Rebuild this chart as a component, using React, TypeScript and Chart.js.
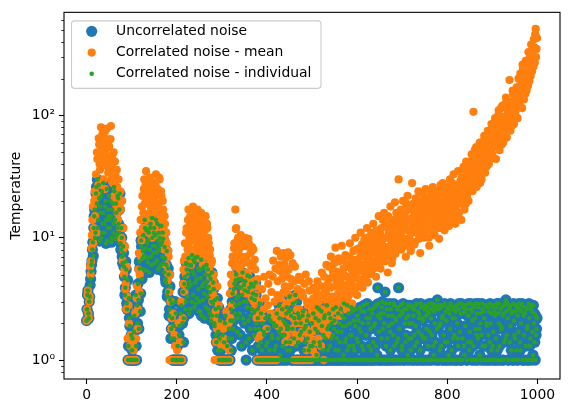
import { useEffect, useRef } from "react";
import Chart from "chart.js/auto";

const FONT_FAMILY = "'DejaVu Sans', 'Liberation Sans', sans-serif";
const FONT_SIZE = 13.9;

// One sample per time unit, starting at t = 0.
const TIME_STEP = 1;

const X_TICKS = [0, 200, 400, 600, 800, 1000];
const Y_MAJOR_TICKS = [1, 10, 100];
const Y_TICK_LABELS = ["10⁰", "10¹", "10²"];
const Y_MINOR_TICKS = [0.8, 0.9, 2, 3, 4, 5, 6, 7, 8, 9, 20, 30, 40, 50, 60, 70, 80, 90, 200, 300, 400, 500, 600];

const SERIES_LABELS = ["Uncorrelated noise", "Correlated noise - mean", "Correlated noise - individual"];
const SERIES_COLORS = ["#1f77b4", "#ff7f0e", "#2ca02c"];

// Temperature of the uncorrelated-noise run (50 samples per row).
const UNCORRELATED = [
  2.1,2.6, 3.4,3.7, 2.4,2.2, 3.0,3.3, 4.1,4.6, 5.3,6.0, 6.5,8.0, 9.2,7.1, 12,15, 17,10, 11,23, 26,19, 30,12, 14,27, 21,9.4, 18,16, 10,22, 24,11, 13,28, 16,13, 11,18, 20,9.0, 14,25, 9.5,12, 17,15,
  22,14, 12,20, 15,9.2, 10,17, 19,11, 13,26, 24,14, 9.8,19, 16,10.5, 12,22, 21,13, 11,17, 23,9.0, 8.0,12, 10,7.0, 6.2,8.5, 7.5,5.8, 4.8,3.4, 3.9,6.4, 5.5,2.9, 2.6,4.5, 1.0,1.3, 3.2,2.2, 1.9,1.0, 1.0,1.6,
  1.0,1.2, 1.5,1.0, 1.0,1.7, 2.3,1.0, 1.0,3.4, 1.3,1.0, 2.8,2.0, 4.2,3.1, 1.8,6.4, 5.6,2.5, 3.5,9.5, 8.5,4.6, 6.8,7.8, 10.5,5.5, 7.2,14, 12,8.2, 5.4,11.5, 9.0,6.9, 6.3,9.6, 11,5.2, 8.0,12, 13,7.0, 6.0,14.5, 10,8.6, 7.5,11,
  12,6.2, 8.5,10.5, 14,7.6, 6.5,13, 9.5,5.5, 11,8.0, 5.8,10, 8.8,6.0, 12.5,9.2, 7.0,11, 9.8,6.2, 5.2,8.4, 6.8,4.6, 4.3,6.0, 7.8,3.3, 3.6,5.6, 5.0,2.3, 2.6,4.0, 3.1,1.5, 1.8,2.9, 2.2,1.0, 1.0,1.9, 1.5,1.0, 1.0,3.0, 2.4,1.0,
  1.0,1.0, 1.3,1.0, 1.0,1.6, 1.9,1.0, 1.0,2.4, 2.8,1.0, 1.0,2.0, 3.6,1.4, 2.2,4.2, 4.8,2.6, 3.0,6.2, 5.5,3.3, 3.9,5.0, 6.8,2.4, 4.4,6.0, 2.6,4.1, 5.9,3.0, 7.2,5.3, 3.4,6.6, 5.0,2.7, 6.3,4.3, 2.9,6.9, 4.6,3.2, 7.0,5.6, 3.8,2.5,
  5.4,3.0, 2.5,4.7, 6.6,2.3, 4.0,5.6, 3.1,4.2, 5.8,3.5, 2.2,5.0, 4.4,2.7, 6.0,3.9, 3.3,5.5, 2.6,4.0, 4.9,2.4, 3.6,4.6, 2.1,3.0, 5.2,2.3, 2.9,4.3, 3.8,2.0, 1.9,3.1, 2.6,1.6, 1.4,2.3, 3.2,1.2, 1.7,2.7, 1.0,1.5, 2.1,1.0, 1.2,1.0,
  1.0,1.0, 1.6,1.0, 1.0,1.4, 1.0,2.0, 2.3,1.0, 1.0,1.0, 1.3,1.0, 1.0,1.5, 1.8,1.0, 1.0,2.1, 2.6,1.2, 1.5,3.0, 3.5,1.8, 2.1,3.8, 4.2,2.4, 2.8,4.5, 5.0,3.2, 1.7,2.2, 3.3,4.0, 4.6,2.9, 2.4,1.6, 3.9,4.6, 1.3,3.4, 5.2,2.2, 3.0,4.1,
  2.0,3.7, 4.4,1.4, 1.0,3.0, 2.7,4.9, 3.6,2.1, 1.5,3.9, 4.8,1.8, 2.3,4.2, 3.2,2.6, 1.2,3.5, 4.0,1.6, 2.5,3.1, 1.8,4.3, 3.4,2.0, 1.0,2.6, 2.2,1.3, 1.0,1.8, 2.9,1.0, 1.4,2.4, 1.0,1.2, 2.0,1.0, 1.0,1.7, 1.6,1.0, 1.0,2.2, 1.3,1.0,
  1.0,1.4, 1.8,1.0, 1.0,2.3, 1.2,1.0, 2.1,1.0, 1.0,1.6, 1.5,1.0, 1.0,2.0, 1.9,1.2, 1.0,1.0, 1.3,1.9, 2.4,1.0, 1.0,1.5, 1.7,2.8, 2.2,1.0, 1.1,1.8, 1.6,1.0, 2.6,1.3, 1.3,2.1, 1.0,1.6, 2.0,1.0, 1.4,2.4, 2.7,1.2, 1.0,1.9, 1.8,2.5,
  3.3,1.4, 1.2,2.6, 2.3,1.0, 1.0,1.8, 2.9,1.0, 1.5,2.2, 1.0,3.4, 2.0,1.3, 3.0,1.0, 1.0,2.4, 1.4,1.0, 2.2,1.6, 1.0,2.0, 1.7,1.0, 1.0,2.3, 2.5,1.0, 1.2,1.8, 1.0,1.4, 1.9,1.0, 1.0,2.1, 1.5,1.0, 2.3,1.2, 1.0,1.7, 1.3,1.0, 1.0,2.0,
  2.0,1.3, 1.0,2.4, 1.4,1.0, 1.0,1.8, 2.2,1.0, 1.1,2.7, 1.7,1.0, 1.0,2.1, 2.6,1.4, 1.3,1.0, 1.0,2.5, 1.9,1.0, 1.2,1.6, 1.0,2.2, 2.3,1.0, 1.5,1.0, 1.0,2.8, 1.8,1.2, 1.0,1.9, 2.4,1.0, 1.3,2.2, 1.0,1.5, 2.0,1.0, 1.6,2.6, 1.0,1.8,
  2.1,1.0, 1.2,2.7, 1.0,1.5, 1.7,1.0, 2.4,1.2, 1.0,2.0, 1.4,1.0, 2.6,1.7, 1.0,2.3, 1.9,1.0, 1.1,2.9, 2.2,1.4, 1.0,1.9, 1.5,1.0, 2.8,1.2, 1.0,2.4, 1.3,1.0, 2.0,1.6, 1.0,2.7, 1.6,1.0, 2.5,1.3, 1.0,2.1, 1.2,1.0, 1.9,2.6, 1.0,1.5,
  2.3,1.0, 1.4,2.1, 1.0,1.8, 2.7,1.0, 1.7,2.5, 1.0,1.3, 2.0,1.0, 1.2,2.8, 2.5,1.0, 1.0,1.6, 1.6,2.2, 2.9,1.0, 1.0,2.0, 1.3,2.6, 2.2,1.0, 1.8,1.2, 1.0,2.4, 2.6,1.0, 1.4,1.9, 1.0,2.7, 2.0,1.3, 2.8,1.0, 1.1,2.3, 3.9,2.9, 1.7,1.0,
  1.0,2.2, 2.4,1.0, 1.5,2.7, 3.0,1.8, 1.0,2.4, 2.0,1.0, 3.6,2.9, 1.3,1.0, 2.6,1.5, 1.0,2.3, 1.9,1.0, 2.9,1.7, 1.2,2.6, 1.0,2.0, 2.3,1.0, 1.6,2.9, 2.8,1.3, 1.0,2.2, 2.1,1.0, 1.4,2.6, 2.7,1.5, 3.9,1.0, 1.8,2.3, 1.0,2.8, 2.5,1.2,
  1.3,2.4, 2.9,1.0, 1.0,2.6, 2.0,1.4, 1.6,2.2, 2.6,1.0, 1.1,2.8, 2.3,1.5, 1.0,2.0, 2.8,1.2, 1.5,2.7, 2.0,1.0, 1.0,2.3, 2.6,1.6, 1.3,2.8, 1.9,1.0, 2.9,1.4, 1.0,2.5, 1.7,2.2, 2.4,1.0, 1.2,2.9, 2.7,1.6, 1.0,2.2, 2.1,1.0, 1.5,2.6,
  2.8,1.5, 1.0,2.3, 1.8,2.7, 2.5,1.0, 1.3,2.4, 2.9,1.7, 1.0,2.6, 2.2,1.0, 1.6,2.9, 2.7,1.3, 1.1,2.5, 2.0,1.0, 1.4,2.8, 2.6,1.8, 3.1,1.0, 1.0,2.6, 1.9,1.2, 2.8,2.0, 1.3,2.7, 1.0,2.2, 2.3,1.0, 1.6,2.8, 2.9,1.4, 1.0,2.5, 2.1,1.0,
  1.4,2.7, 2.6,1.1, 1.0,2.4, 1.8,2.9, 2.8,1.0, 1.2,2.6, 2.2,1.5, 1.0,2.7, 1.6,2.2, 2.5,1.0, 1.0,2.8, 2.0,1.5, 1.3,2.6, 2.9,1.0, 1.7,2.4, 1.0,2.9, 2.4,1.0, 1.5,2.7, 2.8,1.3, 1.1,2.5, 1.9,2.8, 2.6,1.0, 1.0,2.3, 1.4,2.9, 2.3,1.2,
  1.7,2.6, 2.9,1.4, 1.0,2.5, 2.1,2.8, 1.3,1.0, 2.7,2.2, 1.8,2.9, 1.0,1.6, 2.4,1.0, 1.5,2.7, 2.9,1.8, 1.1,2.4, 2.0,1.0, 1.6,2.9, 2.6,1.3, 1.0,2.5, 2.2,2.8, 1.3,1.0, 2.8,2.0, 1.9,2.7, 1.0,1.6, 2.5,1.0, 1.4,2.9, 2.0,2.4, 1.2,1.0,
  2.7,1.3, 1.7,2.8, 1.0,2.5, 2.3,1.0, 1.5,2.7, 2.9,1.2, 1.0,2.4, 2.0,2.9, 1.3,1.0, 2.6,1.9, 1.8,2.7, 1.0,2.3, 2.4,1.0, 1.4,2.8, 2.9,1.5, 3.1,2.5, 1.6,2.9, 2.2,1.0, 1.0,2.6, 2.7,1.4, 1.9,2.8, 1.2,2.4, 2.5,1.0, 1.0,2.9, 2.1,1.6,
  1.5,2.5, 2.8,1.2, 1.0,2.7, 2.3,1.0, 1.7,2.9, 2.6,1.4, 1.2,2.5, 2.0,2.8, 2.9,1.0, 1.0,2.3, 1.6,2.7, 2.4,1.0, 1.3,2.6, 2.7,1.8, 1.9,1.0, 1.0,2.9, 2.2,1.3, 1.5,2.6, 2.8,1.0, 2.5,1.7, 1.1,2.8, 2.0,2.4, 1.4,1.0, 2.3,1.6, 1.8,2.2,
];

// Mean temperature of the correlated-noise ensemble (50 samples per row).
const CORRELATED_MEAN = [
  2.1,2.6, 3.4,3.7, 2.4,2.2, 3.0,3.3, 5.8,5.0, 6.4,8.2, 10.5,14, 18,9.0, 12,20, 24,15, 21,33, 11,50, 44,22, 27,65, 58,40, 36,28, 80,56, 48,70, 66,42, 30,60, 72,25, 52,46, 40,78, 62,38, 34,55,
  56,40, 45,64, 82,30, 38,47, 28,35, 50,20, 22,42, 33,26, 18,36, 26,16, 14,30, 23,19, 12,24, 17,10, 9.5,20, 6.5,8.0, 12,5.0, 5.5,8.5, 3.8,4.2, 2.6,5.8, 3.3,1.5, 1.0,2.8, 2.0,1.0, 1.0,1.3, 1.6,1.0,
  1.0,1.0, 1.0,1.4, 1.2,1.0, 1.0,1.0, 2.4,1.0, 1.5,3.2, 4.0,1.8, 2.6,5.5, 7.5,3.6, 5.0,11, 14,7.0, 9.5,18, 22,12, 16,25, 30,19, 12,27, 35,14, 20,24, 26,11, 15,21, 31,16, 18,29, 24,10, 13,20, 28,17,
  21,12, 16,27, 33,18, 11,23, 25,14, 19,31, 30,10, 14,24, 22,16, 10,20, 17,12, 8.0,15, 13,9.5, 6.0,11, 9.0,5.2, 4.5,7.8, 7.0,3.6, 1.0,5.0, 3.0,1.0, 1.8,2.2, 1.0,1.0, 2.4,1.0, 1.0,1.6, 1.3,1.0, 1.0,1.0,
  1.0,1.2, 1.0,1.0, 2.0,1.0, 1.0,1.4, 1.0,1.0, 3.0,1.0, 1.0,2.2, 4.2,5.5, 6.5,3.6, 9.0,7.0, 5.0,11, 12,6.5, 8.0,14, 17,9.0, 10,12.5, 15,7.0, 6.0,16, 13,11, 18,8.0, 9.5,14, 16,10.5, 7.5,15, 12,8.5, 17,6.8, 10,13,
  14,9.5, 8.5,12, 16,7.5, 11,14, 6.0,10, 13,7.0, 9.0,11.5, 15,8.0, 7.0,13, 12,6.0, 10,9.0, 5.5,7.2, 8.0,4.8, 4.0,6.2, 6.5,3.0, 3.5,4.5, 5.0,2.2, 1.0,3.2, 2.5,1.4, 1.0,1.8, 4.0,1.0, 1.0,2.8, 1.0,1.0, 2.0,1.0, 1.0,1.3,
  1.0,1.0, 1.0,1.8, 1.5,1.0, 1.0,1.0, 1.0,1.3, 2.5,1.0, 1.0,1.0, 1.0,2.0, 1.2,1.0, 3.5,2.2, 5.0,4.2, 2.8,6.2, 7.0,3.6, 4.5,8.2, 9.0,5.8, 17,11.8, 12,7.5, 6.0,9.5, 10,4.8, 8.0,6.8, 5.5,9.0, 10.5,5.0, 7.0,8.5, 4.0,6.2, 9.5,3.6,
  6.5,8.8, 10,5.2, 3.5,7.0, 8.5,4.6, 5.0,9.8, 9.0,6.2, 4.2,3.8, 7.5,5.8, 3.2,8.4, 6.0,4.4, 8.0,3.0, 2.6,6.6, 5.5,3.4, 4.0,2.2, 1.0,4.6, 1.0,1.5, 3.0,1.0, 1.0,2.4, 1.6,1.0, 1.0,3.8, 2.2,1.0, 1.0,2.6, 4.8,1.0, 1.0,3.2, 1.0,1.8,
  1.0,1.0, 2.8,4.2, 1.0,1.0, 5.0,1.0, 1.0,2.4, 3.6,1.0, 1.0,4.8, 6.5,1.0, 1.0,3.0, 2.2,5.6, 1.0,1.0, 7.8,3.4, 4.4,1.9, 2.5,5.4, 6.0,2.0, 3.2,7.0, 1.8,4.6, 5.2,2.4, 7.5,3.6, 2.7,6.0, 4.0,1.4, 6.8,2.9, 1.6,4.8, 3.5,7.6, 5.5,2.4,
  2.3,4.0, 7.2,3.1, 4.6,1.8, 1.4,6.2, 3.0,2.2, 1.0,4.4, 5.8,1.6, 2.0,3.4, 1.0,2.6, 3.8,1.0, 1.0,4.8, 2.6,1.5, 4.5,2.0, 1.0,3.6, 1.7,1.0, 3.3,2.4, 1.0,4.2, 2.1,1.0, 5.0,1.8, 1.2,3.0, 2.8,1.0, 1.6,4.4, 3.7,1.5, 2.2,1.0, 1.3,3.0,
  2.5,1.7, 1.2,3.2, 3.9,2.0, 1.8,2.7, 1.1,3.6, 2.9,1.4, 4.4,2.4, 1.5,3.0, 2.2,1.9, 3.4,2.4, 1.3,4.0, 5.2,1.8, 2.6,3.2, 1.0,4.8, 3.8,1.6, 2.0,3.5, 6.0,2.6, 3.0,4.2, 1.6,5.8, 4.6,2.2, 2.4,3.9, 7.0,2.8, 3.3,4.8, 5.4,2.6, 2.1,6.2,
  4.0,3.1, 8.3,5.3, 2.8,4.4, 5.0,2.5, 3.5,6.8, 6.4,3.8, 2.3,5.2, 4.6,3.3, 8.6,4.1, 3.0,6.6, 5.6,2.9, 3.9,4.9, 7.2,3.7, 2.6,5.8, 4.8,3.2, 6.0,4.2, 3.4,7.0, 9.0,3.8, 4.3,6.2, 5.5,2.9, 3.6,5.0, 7.8,4.0, 4.7,6.6, 10,3.9, 5.2,8.0,
  3.4,5.9, 6.6,4.6, 8.2,5.4, 4.5,7.0, 11,4.2, 5.8,8.8, 3.9,6.0, 7.4,5.2, 9.6,4.6, 5.0,8.4, 6.8,10, 12,5.6, 4.3,7.2, 8.0,5.0, 6.2,9.2, 10.5,6.6, 5.4,8.6, 7.6,11, 13,5.6, 6.0,8.2, 9.0,6.4, 4.8,10, 11.5,7.8, 7.0,9.4, 15,6.2,
  8.5,11, 5.6,7.0, 12,9.0, 9.8,14, 6.6,8.0, 16,6.4, 10,12.5, 7.4,10, 13.5,8.4, 5.2,15, 11,7.2, 8.2,12, 18,10, 9.4,6.2, 6.8,11.5, 14,8.6, 10.5,13, 19.5,7.4, 7.8,16, 12.5,10, 9.0,14, 30,8.8, 15,12, 11,17, 8.0,13,
  13,10, 20,15, 9.6,12.5, 16,8.6, 7.0,19, 11.5,14, 22,9.5, 14,17, 10,12, 18,7.8, 8.4,14.5, 28,11, 12.5,19, 16.5,8.8, 9.2,15, 21,11.5, 13,17.5, 11,20, 24,9.8, 15,13, 7.5,16, 18,10.5, 12,23, 20,14, 10,17,
  16,12, 25,18, 11.5,21, 19,14, 13.5,10, 8.6,17, 22,13, 15.5,24, 12,19, 26,11, 17,15, 10.5,22, 20,13, 14,17.5, 24,12, 18,20, 9.8,15, 16,27, 23,12, 13,19, 28,15, 19,24, 11.5,17, 21,13, 15,22,
  26,19, 17.5,22, 12.5,16, 30,24, 20,14, 15,28, 24,19, 33,21, 18,26, 13,17, 27,22, 21,15, 35,25, 16,20, 25,29, 19,14, 31,24, 23,36, 38,21, 17,26, 28,19, 42,30, 22,25, 33,20, 26,39,
  36,27, 29,42, 48,33, 24,38, 107,30, 40,52, 31,36, 55,26, 27,40, 44,33, 35,48, 60,28, 38,45, 30,55, 50,35, 42,62, 68,45, 34,52, 56,38, 46,70, 75,49, 40,58, 62,44, 52,72, 85,55,
  48,62, 70,55, 58,82, 95,66, 44,90, 78,56, 64,100, 110,72, 52,68, 88,115, 72,58, 120,84, 60,92, 98,70, 80,125, 140,86, 66,112, 105,76, 90,130, 195,95, 75,108, 125,82, 100,160, 150,115, 85,130,
  145,100, 110,130, 170,120, 95,155, 200,140, 125,175, 220,135, 150,190, 115,260, 240,170, 135,215, 180,150, 280,200, 160,245, 210,175, 330,260, 190,300, 250,210, 380,280, 230,340, 300,250, 420,360, 270,460, 510,300, 350,430,
];

// Individual members of the correlated-noise ensemble follow the uncorrelated run sample for sample.
const CORRELATED_INDIVIDUAL = UNCORRELATED;

const SERIES_VALUES = [UNCORRELATED, CORRELATED_MEAN, CORRELATED_INDIVIDUAL];
const MARKER_RADII = [5.6, 4.1, 2.3];
const DRAW_ORDER = [3, 2, 1];

const font = { family: FONT_FAMILY, size: FONT_SIZE };

// Spines, minor log ticks and the legend box, drawn on top of the chart.
const decorPlugin = {
  id: "decor",
  afterDatasetsDraw(chart: any) {
    const { ctx, chartArea: a, scales } = chart;
    const y = scales.y;
    ctx.save();
    ctx.strokeStyle = "#000";
    ctx.lineWidth = 0.8;
    ctx.beginPath();
    for (const v of Y_MINOR_TICKS) {
      const py = Math.round(y.getPixelForValue(v)) + 0.5;
      ctx.moveTo(a.left, py);
      ctx.lineTo(a.left - 2.8, py);
    }
    ctx.stroke();
    ctx.lineWidth = 1.1;
    ctx.strokeRect(a.left, a.top, a.right - a.left, a.bottom - a.top);
    ctx.restore();
  },
  afterDraw(chart: any) {
    const { ctx, chartArea: a } = chart;
    const bx = a.left + 7.5;
    const by = a.top + 8.5;
    const bw = 249.5;
    const bh = 67.5;
    ctx.save();
    ctx.beginPath();
    ctx.roundRect(bx, by, bw, bh, 3);
    ctx.fillStyle = "rgba(255,255,255,0.8)";
    ctx.fill();
    ctx.strokeStyle = "#cccccc";
    ctx.lineWidth = 1.1;
    ctx.stroke();
    ctx.font = `${FONT_SIZE}px ${FONT_FAMILY}`;
    ctx.textBaseline = "middle";
    ctx.textAlign = "left";
    SERIES_LABELS.forEach((label, i) => {
      const rowY = by + 10.5 + i * 21.2;
      ctx.beginPath();
      ctx.arc(bx + 20.2, rowY, MARKER_RADII[i], 0, Math.PI * 2);
      ctx.fillStyle = SERIES_COLORS[i];
      ctx.fill();
      ctx.fillStyle = "#000";
      ctx.fillText(label, bx + 44.5, rowY);
    });
    ctx.restore();
  },
};

export default function App() {
  const canvasRef = useRef<HTMLCanvasElement | null>(null);

  useEffect(() => {
    const canvas = canvasRef.current;
    if (!canvas) return;

    const datasets = SERIES_LABELS.map((label, i) => ({
      label,
      data: SERIES_VALUES[i].map((y, k) => ({ x: k * TIME_STEP, y })),
      backgroundColor: SERIES_COLORS[i],
      pointRadius: MARKER_RADII[i],
      pointBorderWidth: 0,
      borderWidth: 0,
      showLine: false,
      order: DRAW_ORDER[i],
    }));

    const chart = new Chart(canvas, {
      type: "scatter",
      data: { datasets },
      options: {
        animation: false,
        responsive: false,
        devicePixelRatio: 1,
        events: [],
        layout: { padding: { left: 0, top: 10, right: 10, bottom: 0 } },
        plugins: { legend: { display: false }, tooltip: { enabled: false } },
        scales: {
          x: {
            type: "linear",
            min: -50,
            max: 1050,
            afterBuildTicks: (s: any) => {
              s.ticks = X_TICKS.map((value) => ({ value }));
            },
            afterFit: (s: any) => {
              s.height = 34;
            },
            ticks: {
              font,
              color: "#000",
              padding: 2.6,
              maxRotation: 0,
              autoSkip: false,
              callback: (v: any) => String(v),
            },
            grid: {
              display: true,
              drawOnChartArea: false,
              drawTicks: true,
              tickLength: 5,
              tickColor: "#000",
              tickWidth: 1.1,
            },
            border: { display: false },
          },
          y: {
            type: "logarithmic",
            min: 0.733,
            max: 697,
            afterBuildTicks: (s: any) => {
              s.ticks = Y_MAJOR_TICKS.map((value) => ({ value, major: true }));
            },
            afterFit: (s: any) => {
              s.width = 64;
            },
            ticks: {
              font,
              color: "#000",
              padding: 4,
              autoSkip: false,
              callback: (_v: any, index: number) => Y_TICK_LABELS[index] ?? "",
            },
            grid: {
              display: true,
              drawOnChartArea: false,
              drawTicks: true,
              tickLength: 5,
              tickColor: "#000",
              tickWidth: 1.1,
            },
            border: { display: false },
            title: {
              display: true,
              text: "Temperature",
              font,
              color: "#000",
              padding: { top: 8, bottom: 0 },
            },
          },
        },
      } as any,
      plugins: [decorPlugin],
    });

    return () => chart.destroy();
  }, []);

  return (
    <div style={{ position: "fixed", left: 0, top: 0, width: 570, height: 413, background: "#fff" }}>
      <canvas ref={canvasRef} width={570} height={413} style={{ display: "block" }} />
    </div>
  );
}
